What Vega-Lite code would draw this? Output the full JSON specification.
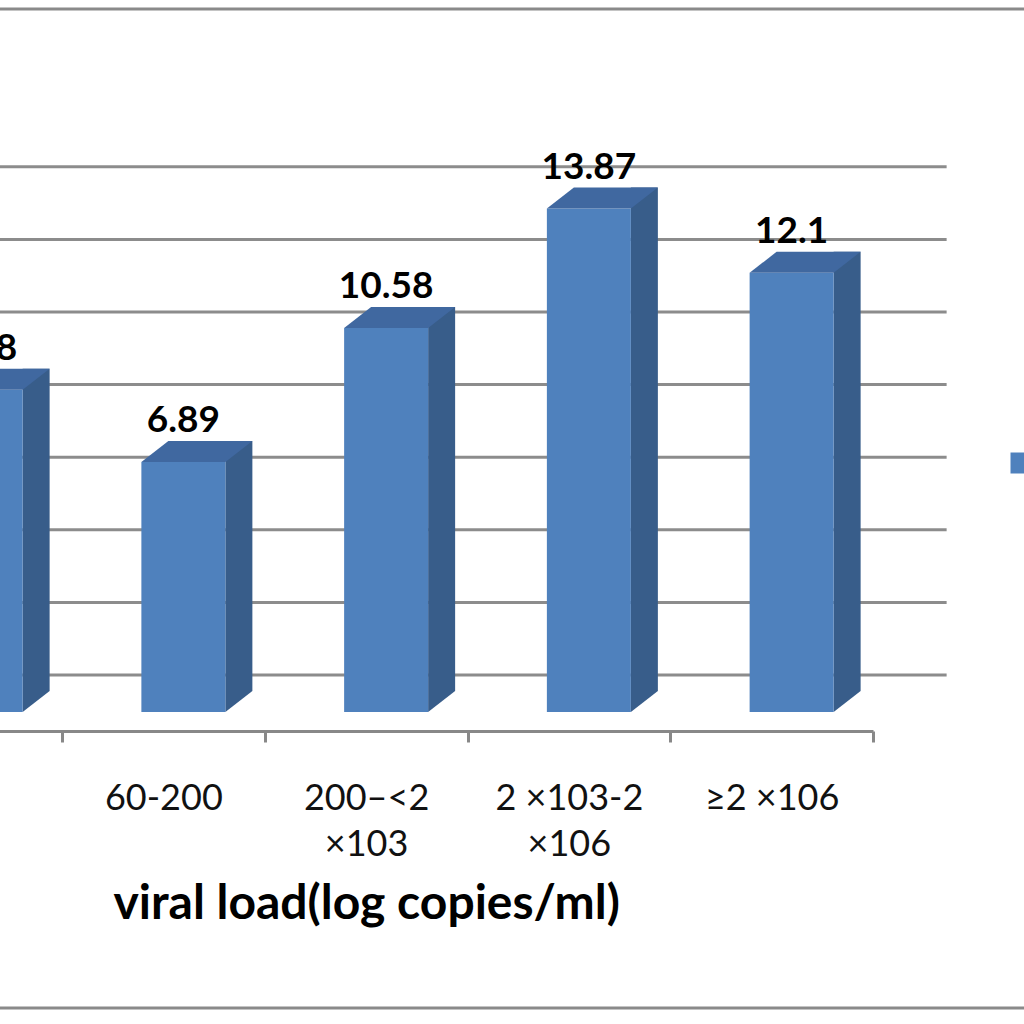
{
  "$schema": "https://vega.github.io/schema/vega-lite/v6.json",
  "width": 1024,
  "height": 1024,
  "padding": 0,
  "autosize": {"type": "none"},
  "background": "white",
  "config": {"view": {"stroke": null}},
  "datasets": {
    "bars": [
      {"category": "<60", "value": 8.88},
      {"category": "60-200", "value": 6.89},
      {"category": "200–<2\n×103", "value": 10.58},
      {"category": "2 ×103-2\n×106", "value": 13.87},
      {"category": "≥2 ×106", "value": 12.1}
    ],
    "grid": [{"g": 0}, {"g": 2}, {"g": 4}, {"g": 6}, {"g": 8}, {"g": 10}, {"g": 12}, {"g": 14}],
    "frame": [{"f": 19.366}, {"f": -8.154}]
  },
  "layer": [
    {
      "data": {"name": "frame"},
      "mark": {"type": "rule", "color": "#8a8a8a", "strokeWidth": 3},
      "encoding": {
        "y": {"field": "f", "type": "quantitative", "scale": {"domain": [-8.595, 19.614], "nice": false, "zero": false}, "axis": null}
      }
    },
    {
      "data": {"name": "grid"},
      "mark": {"type": "rule", "color": "#8c8c8c", "strokeWidth": 3, "yOffset": -37, "x2Offset": 175},
      "encoding": {
        "x": {"datum": "<60"},
        "x2": {"datum": "≥2 ×106"},
        "y": {"field": "g", "type": "quantitative", "scale": {"domain": [-8.595, 19.614], "nice": false, "zero": false}, "axis": null}
      }
    },
    {
      "data": {"name": "bars"},
      "encoding": {
        "x": {
          "field": "category",
          "type": "nominal",
          "sort": null,
          "scale": {
            "domain": ["<60", "60-200", "200–<2\n×103", "2 ×103-2\n×106", "≥2 ×106"],
            "range": [-140.75, 873],
            "paddingInner": 0,
            "paddingOuter": 0
          },
          "axis": {
            "offset": -293,
            "grid": false,
            "domainColor": "#888888",
            "domainWidth": 3,
            "ticks": true,
            "tickBand": "extent",
            "tickColor": "#888888",
            "tickWidth": 3,
            "tickSize": 11,
            "labelExpr": "split(datum.label, '\\n')",
            "labelAngle": 0,
            "labelAlign": "center",
            "labelFont": "Lato",
            "labelFontSize": 36,
            "labelColor": "#111111",
            "labelLineHeight": 46,
            "labelPadding": 56,
            "labelOverlap": false,
            "labelFlush": false,
            "labelLimit": 400,
            "title": "viral load(log copies/ml)",
            "titleFont": "Lato",
            "titleFontSize": 48,
            "titleFontWeight": "bold",
            "titleColor": "#000000",
            "titlePadding": 18
          }
        },
        "y": {"field": "value", "type": "quantitative", "scale": {"domain": [-8.595, 19.614], "nice": false, "zero": false}, "axis": null}
      },
      "layer": [
        {
          "mark": {"type": "bar", "color": "#385D8A", "width": 27, "xOffset": 75.5, "yOffset": -21, "y2Offset": -21},
          "encoding": {"y2": {"datum": 0}}
        },
        {
          "mark": {"type": "point", "shape": "M0.62,0L0.62,-0.21L0.89,-0.21Z", "size": 40000, "filled": true, "opacity": 1, "strokeWidth": 0, "color": "#385D8A"},
          "encoding": {
            "y": {"datum": 0, "type": "quantitative", "scale": {"domain": [-8.595, 19.614], "nice": false, "zero": false}, "axis": null}
          }
        },
        {
          "mark": {"type": "bar", "width": 84, "xOffset": 20},
          "encoding": {
            "y2": {"datum": 0},
            "color": {
              "datum": "proportion (%)",
              "scale": {"range": ["#4F81BD"]},
              "legend": {"orient": "none", "legendX": 1009, "legendY": 451, "title": null, "symbolType": "square", "symbolSize": 441, "symbolStrokeWidth": 0, "symbolOpacity": 1, "padding": 0, "labelFontSize": 24, "labelFont": "Lato"}
            }
          }
        },
        {
          "mark": {"type": "point", "shape": "M-0.22,0L0.05,-0.21L0.89,-0.21L0.62,0Z", "size": 40000, "filled": true, "opacity": 1, "strokeWidth": 0, "color": "#4068A0"}
        },
        {
          "mark": {"type": "text", "dx": 20, "dy": -30, "baseline": "alphabetic", "align": "center", "font": "Lato", "fontSize": 37, "fontWeight": "bold", "color": "#000000"},
          "encoding": {
            "text": {"field": "value", "type": "quantitative"}
          }
        }
      ]
    }
  ]
}
